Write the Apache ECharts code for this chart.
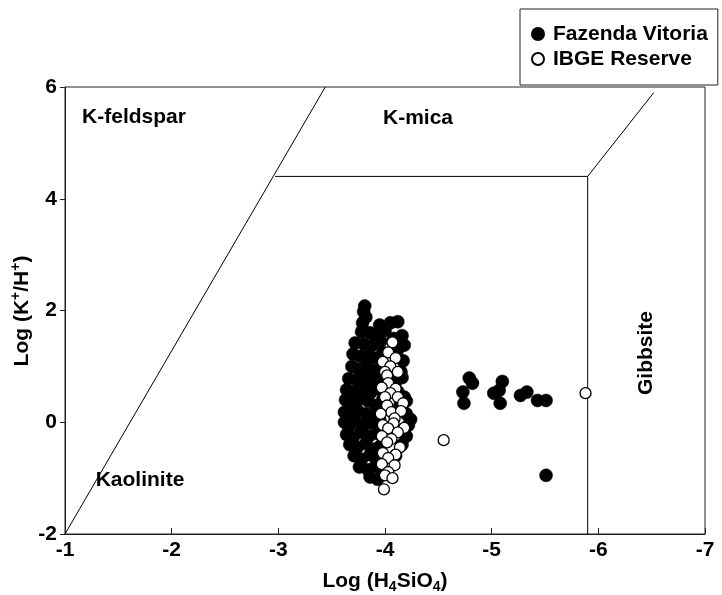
<!DOCTYPE html>
<html>
<head>
<meta charset="utf-8">
<script src="https://cdn.jsdelivr.net/npm/echarts@6/dist/echarts.min.js"></script>
<style>
  html, body { margin: 0; padding: 0; background: #fff; }
  #chart { width: 722px; height: 595px; }
</style>
</head>
<body>
<div id="chart"></div>
<script>
// axis ticks
var xTicks = [-1, -2, -3, -4, -5, -6, -7];
var yTicks = [-2, 0, 2, 4, 6];

// Fazenda Vitoria samples [log H4SiO4, log K+/H+]
var fazenda = [
  [-3.81, 2.08], [-3.80, 1.98],
  [-3.82, 1.88], [-3.79, 1.78], [-4.12, 1.80], [-4.05, 1.78], [-3.95, 1.74],
  [-3.78, 1.62], [-3.86, 1.60], [-3.93, 1.56], [-4.00, 1.64], [-4.16, 1.55], [-4.08, 1.50],
  [-3.72, 1.42], [-3.80, 1.40], [-3.88, 1.38], [-3.96, 1.45], [-4.18, 1.38], [-4.12, 1.30],
  [-3.70, 1.22], [-3.77, 1.18], [-3.85, 1.20], [-3.92, 1.15], [-3.98, 1.25], [-4.17, 1.10],
  [-3.69, 1.00], [-3.75, 0.95], [-3.83, 1.02], [-3.90, 0.92], [-3.97, 0.98], [-4.15, 0.90],
  [-3.66, 0.78], [-3.74, 0.75], [-3.81, 0.80], [-3.88, 0.72], [-3.95, 0.78], [-4.10, 0.72], [-4.16, 0.80],
  [-3.64, 0.58], [-3.70, 0.55], [-3.78, 0.62], [-3.86, 0.52], [-3.93, 0.60], [-4.12, 0.55], [-4.18, 0.45],
  [-3.63, 0.40], [-3.68, 0.35], [-3.76, 0.42], [-3.84, 0.38], [-3.91, 0.30], [-3.98, 0.42], [-4.14, 0.30], [-4.20, 0.38],
  [-3.62, 0.18], [-3.67, 0.12], [-3.74, 0.22], [-3.82, 0.15], [-3.89, 0.10], [-3.96, 0.20], [-4.20, 0.15], [-4.24, 0.05],
  [-3.62, 0.00], [-3.66, -0.08], [-3.72, 0.02], [-3.80, -0.05], [-3.88, -0.02], [-3.95, 0.05], [-4.22, -0.05], [-4.18, -0.15],
  [-3.64, -0.22], [-3.70, -0.28], [-3.77, -0.18], [-3.85, -0.25], [-3.93, -0.20], [-4.20, -0.25],
  [-3.67, -0.40], [-3.74, -0.45], [-3.82, -0.38], [-3.90, -0.48], [-3.96, -0.42], [-4.16, -0.40],
  [-3.71, -0.60], [-3.78, -0.66], [-3.86, -0.58], [-3.93, -0.65], [-4.10, -0.60],
  [-3.76, -0.80], [-3.84, -0.85], [-3.91, -0.78], [-3.97, -0.88],
  [-3.86, -0.98], [-3.93, -1.02],
  [-4.79, 0.79], [-4.82, 0.70], [-4.73, 0.54], [-4.74, 0.34],
  [-5.10, 0.73], [-5.02, 0.52], [-5.07, 0.57], [-5.08, 0.34],
  [-5.27, 0.48], [-5.33, 0.54], [-5.43, 0.39], [-5.51, 0.39],
  [-5.51, -0.95]
];

// IBGE Reserve samples
var ibge = [
  [-4.07, 1.43], [-4.03, 1.25], [-4.10, 1.15], [-3.98, 1.08], [-4.05, 1.00],
  [-4.00, 0.90], [-4.12, 0.90], [-4.02, 0.84], [-4.03, 0.70], [-3.97, 0.62],
  [-4.10, 0.60], [-4.05, 0.52], [-4.00, 0.45], [-4.12, 0.45], [-4.17, 0.34],
  [-4.02, 0.30], [-4.06, 0.18], [-3.96, 0.15], [-4.15, 0.20], [-4.09, 0.07],
  [-3.98, -0.05], [-4.08, -0.02], [-4.18, -0.10], [-4.03, -0.11], [-4.12, -0.18],
  [-3.97, -0.25], [-4.06, -0.30], [-4.02, -0.36], [-4.14, -0.45], [-3.98, -0.55],
  [-4.10, -0.58], [-4.03, -0.64], [-3.97, -0.75], [-4.09, -0.77], [-4.03, -0.89],
  [-4.00, -0.95], [-4.07, -1.00], [-3.99, -1.20],
  [-4.55, -0.32], [-5.88, 0.52]
];

// stability field boundaries
var kfsKaol = [[-1, -2], [-3.44, 6]];
var micaKaol = [[-2.97, 4.4], [-5.9, 4.4]];
var gibbKaol = [[-5.9, -2], [-5.9, 4.4]];
var micaGibb = [[-5.9, 4.4], [-6.52, 5.9]];

var font = 'Liberation Sans, Arial, sans-serif';
var fs = 21;

function boundary(pts) {
    return {
        type: 'line',
        data: pts,
        symbol: 'none',
        silent: true,
        lineStyle: { color: '#000', width: 1 },
        z: 1
    };
}

function fieldLabel(txt, x, y, rot) {
    return {
        type: 'text', x: x, y: y, rotation: rot || 0,
        style: { text: txt, align: 'center', verticalAlign: 'middle', font: 'bold ' + fs + 'px ' + font, fill: '#000' }
    };
}

var chart = echarts.init(document.getElementById('chart'));

chart.setOption({
    animation: false,
    grid: {
        left: 65, right: 17, top: 87, bottom: 61,
        outerBoundsMode: 'none',
        containLabel: false,
        show: true, borderColor: '#222', borderWidth: 1
    },
    legend: {
        orient: 'vertical',
        left: 520, top: 9,
        padding: [14, 10, 15, 11],
        itemWidth: 12, itemHeight: 12, itemGap: 3,
        borderColor: '#222', borderWidth: 1,
        backgroundColor: '#fff',
        textStyle: { fontFamily: font, fontWeight: 'bold', fontSize: fs, color: '#000', lineHeight: 22, padding: [0, 0, 0, 4] },
        data: ['Fazenda Vitoria', 'IBGE Reserve'],
        z: 10
    },
    xAxis: {
        type: 'value', inverse: true, min: -7, max: -1, interval: 1,
        splitLine: { show: false },
        axisLine: { onZero: false, lineStyle: { color: '#222' } },
        axisTick: { inside: true, length: 6, lineStyle: { color: '#222' } },
        axisLabel: { fontFamily: font, fontWeight: 'bold', fontSize: fs, color: '#000', margin: 6 },
        name: '{a|Log (H}{s|4}{a|SiO}{s|4}{a|)}',
        nameLocation: 'middle', nameGap: 35,
        nameTextStyle: {
            rich: {
                a: { fontFamily: font, fontWeight: 'bold', fontSize: fs, color: '#000' },
                s: { fontFamily: font, fontWeight: 'bold', fontSize: 14, color: '#000', padding: [11, 0, 0, 0] }
            }
        }
    },
    yAxis: {
        type: 'value', min: -2, max: 6, interval: 2,
        splitLine: { show: false },
        axisLine: { onZero: false, lineStyle: { color: '#222' } },
        axisTick: { inside: false, length: 5, lineStyle: { color: '#222' } },
        axisLabel: { fontFamily: font, fontWeight: 'bold', fontSize: fs, color: '#000', margin: 8 }
    },
    graphic: [
        fieldLabel('K-feldspar', 134, 117),
        fieldLabel('K-mica', 418, 118),
        fieldLabel('Kaolinite', 140, 480),
        fieldLabel('Gibbsite', 646, 353, Math.PI / 2),
        {
            type: 'text', x: 22, y: 311, rotation: Math.PI / 2,
            style: {
                text: '{a|Log (K}{p|+}{a|/H}{p|+}{a|)}',
                align: 'center', verticalAlign: 'middle',
                rich: {
                    a: { fontFamily: font, fontWeight: 'bold', fontSize: fs, fill: '#000' },
                    p: { fontFamily: font, fontWeight: 'bold', fontSize: 14, fill: '#000', padding: [0, 0, 11, 0] }
                }
            }
        }
    ],
    series: [
        boundary(kfsKaol),
        boundary(micaKaol),
        boundary(gibbKaol),
        boundary(micaGibb),
        {
            name: 'Fazenda Vitoria',
            type: 'scatter',
            data: fazenda,
            symbol: 'circle',
            symbolSize: 13,
            itemStyle: { color: '#000', borderColor: '#000', borderWidth: 0.5, opacity: 1 },
            z: 2
        },
        {
            name: 'IBGE Reserve',
            type: 'scatter',
            data: ibge,
            symbol: 'circle',
            symbolSize: 11,
            itemStyle: { color: '#fff', borderColor: '#000', borderWidth: 1.3, opacity: 1 },
            z: 3
        }
    ]
});
</script>
</body>
</html>
